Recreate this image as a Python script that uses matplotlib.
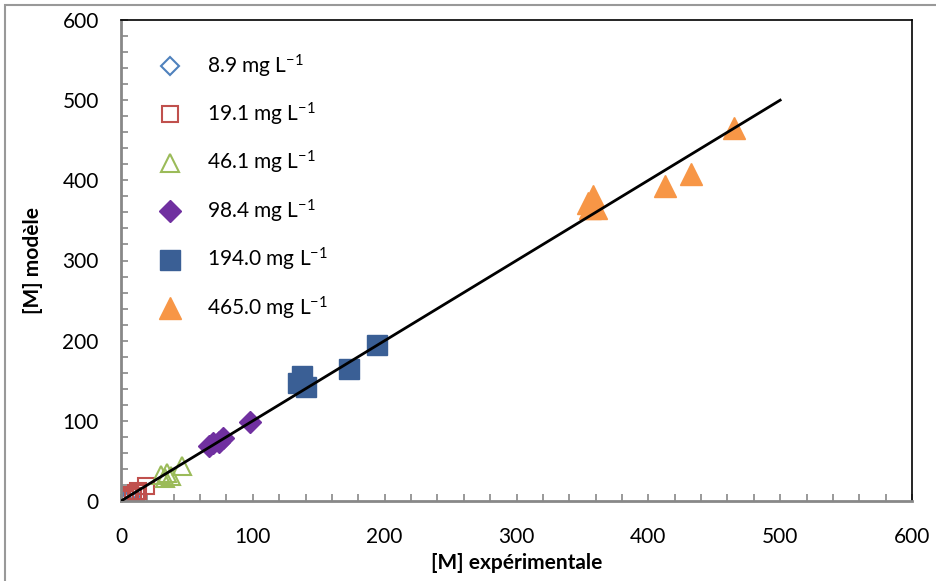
import matplotlib
matplotlib.use("Agg")
import matplotlib.pyplot as plt
from matplotlib.patches import Rectangle
from matplotlib.ticker import MultipleLocator

plt.rcParams["font.family"] = ["Lato", "DejaVu Sans"]
plt.rcParams["mathtext.fontset"] = "custom"
plt.rcParams["mathtext.rm"] = "Lato"
plt.rcParams["mathtext.it"] = "Lato:italic"

# concentration series: experimental vs model [M]
labels = ["8.9 mg L$^{-1}$", "19.1 mg L$^{-1}$", "46.1 mg L$^{-1}$",
          "98.4 mg L$^{-1}$", "194.0 mg L$^{-1}$", "465.0 mg L$^{-1}$"]
exp_89 = [0, 2, 4, 6, 8]
mod_89 = [0, 1, 4, 5, 7]
exp_191 = [3, 5, 7, 9, 11, 13, 19]
mod_191 = [2, 5, 8, 6, 10, 12, 19]
exp_461 = [30, 33, 35, 38, 46]
mod_461 = [32, 29, 35, 31, 44]
exp_984 = [67, 70, 74, 77, 98]
mod_984 = [68, 72, 74, 79, 99]
exp_1940 = [134, 137, 140, 173, 194]
mod_1940 = [147, 156, 142, 165, 194]
exp_4650 = [354, 356, 358, 360, 413, 432, 465]
mod_4650 = [372, 366, 380, 365, 393, 408, 465]
line_x = [0, 500]
line_y = [0, 500]

fig = plt.figure(figsize=(9.36, 5.81), dpi=100)
ax = fig.add_axes([121 / 936, 1 - 501 / 581, 791 / 936, 481 / 581])

ax.plot(line_x, line_y, color="black", lw=2, zorder=3)
ax.plot(exp_89, mod_89, ls="none", marker="D", ms=9, mfc="none", mec="#4F81BD",
        mew=1.5, label=labels[0])
ax.plot(exp_191, mod_191, ls="none", marker="s", ms=12, mfc="none", mec="#C0504D",
        mew=1.5, label=labels[1])
ax.plot(exp_461, mod_461, ls="none", marker="^", ms=13, mfc="none", mec="#9BBB59",
        mew=1.5, label=labels[2])
ax.plot(exp_984, mod_984, ls="none", marker="D", ms=11, color="#7030A0",
        label=labels[3])
ax.plot(exp_1940, mod_1940, ls="none", marker="s", ms=15, color="#3A5F95",
        label=labels[4])
ax.plot(exp_4650, mod_4650, ls="none", marker="^", ms=16, color="#F79646",
        label=labels[5])

ax.set_xlim(0, 600)
ax.set_ylim(0, 600)
ax.xaxis.set_major_locator(MultipleLocator(100))
ax.yaxis.set_major_locator(MultipleLocator(100))
ax.xaxis.set_minor_locator(MultipleLocator(20))
ax.yaxis.set_minor_locator(MultipleLocator(20))
ax.tick_params(which="both", direction="in", length=5, color="#888888", width=1.2,
               top=False, right=False, labelsize=15)
ax.tick_params(axis="x", pad=19)
ax.tick_params(axis="y", pad=16)
for s in ["left", "bottom"]:
    ax.spines[s].set_color("#888888")
    ax.spines[s].set_linewidth(2)
for s in ["top", "right"]:
    ax.spines[s].set_color("black")
    ax.spines[s].set_linewidth(1.2)

ax.set_xlabel("[M] expérimentale", fontsize=15, fontweight="bold", labelpad=4)
ax.set_ylabel("[M] modèle", fontsize=15, fontweight="bold", labelpad=14)

ax.legend(loc="upper left", frameon=False, fontsize=15, labelspacing=1.02,
          handletextpad=0.8, bbox_to_anchor=(0.025, 0.95), borderaxespad=0)

fig.patches.append(Rectangle((5 / 936, -0.1), 1.2, 1 - 5 / 581 + 0.1,
                             transform=fig.transFigure, fill=False,
                             edgecolor="#999999", lw=1.5))

fig.savefig("out.png", dpi=100)
